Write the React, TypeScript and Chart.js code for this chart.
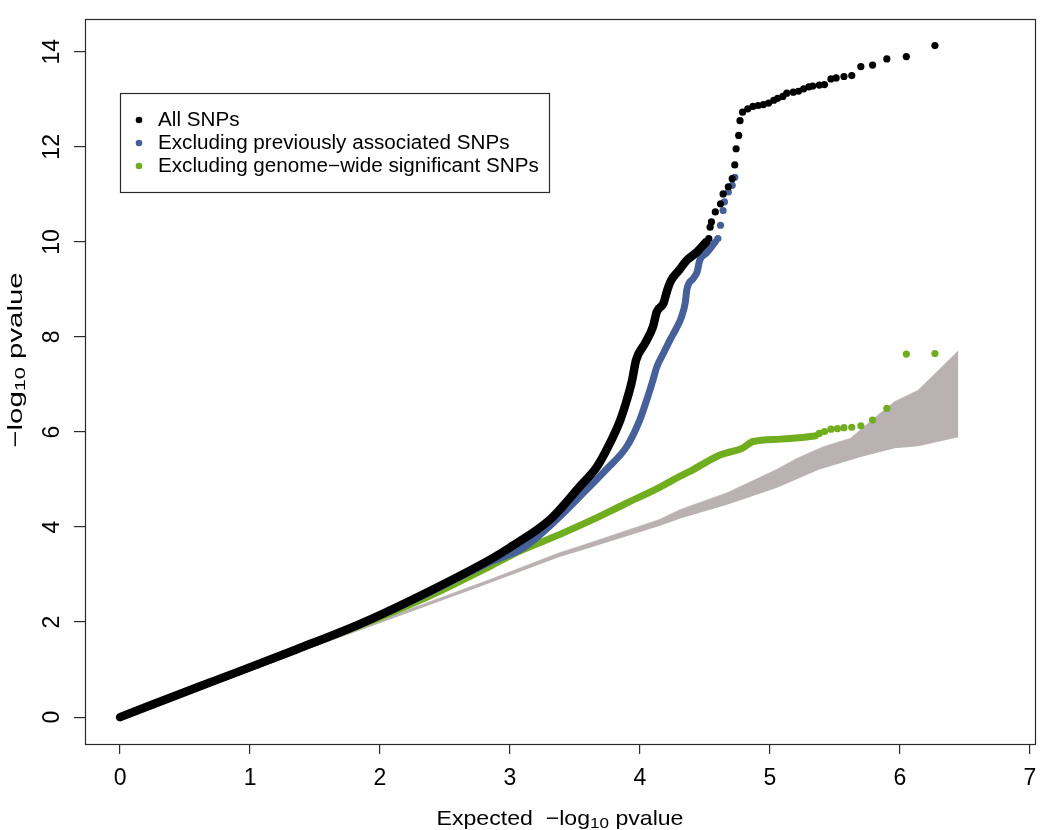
import React, { useEffect, useRef } from "react";
import { Chart, registerables } from "chart.js";

Chart.register(...registerables);

// ---------- data ----------
const xTicks = [0, 1, 2, 3, 4, 5, 6, 7];
const yTicks = [0, 2, 4, 6, 8, 10, 12, 14];

const legendLabels = [
  "All SNPs",
  "Excluding previously associated SNPs",
  "Excluding genome\u2212wide significant SNPs",
];
const seriesColors = ["#000000", "#46609a", "#70ad1f"];
const bandColor = "#bab2b2";

// All SNPs: dense part (reads as a thick line) and sparse tail points
const allDense: number[][] = [
  [0, 0], [0.615, 0.65], [0.846, 0.89], [1.36, 1.43], [1.87, 1.99], [2.38, 2.65],
  [2.85, 3.32], [3.0, 3.57], [3.31, 4.16], [3.54, 4.86], [3.67, 5.27], [3.77, 5.77],
  [3.85, 6.26], [3.9, 6.68], [3.94, 7.09], [3.97, 7.51], [4.04, 7.87], [4.1, 8.21],
  [4.13, 8.53], [4.18, 8.7], [4.21, 8.98], [4.24, 9.19], [4.3, 9.4], [4.36, 9.61],
  [4.44, 9.79], [4.51, 10.0],
];
const allTail: number[][] = [
  [4.53, 10.07], [4.54, 10.31], [4.55, 10.42], [4.58, 10.63], [4.62, 10.8], [4.64, 11.01],
  [4.68, 11.16], [4.71, 11.33], [4.73, 11.62], [4.74, 11.96], [4.76, 12.24], [4.77, 12.55],
  [4.79, 12.73], [4.83, 12.8], [4.87, 12.85], [4.91, 12.87], [4.95, 12.89], [4.99, 12.92],
  [5.03, 12.98], [5.06, 13.02], [5.1, 13.06], [5.13, 13.13], [5.18, 13.15], [5.22, 13.17],
  [5.26, 13.22], [5.3, 13.26], [5.33, 13.28], [5.38, 13.3], [5.42, 13.31], [5.47, 13.43],
  [5.51, 13.45], [5.57, 13.48], [5.63, 13.5], [5.7, 13.69], [5.79, 13.72], [5.9, 13.85],
  [6.05, 13.9], [6.27, 14.13],
];

// Excluding previously associated SNPs
const prevDense: number[][] = [
  [0, 0], [0.615, 0.65], [0.846, 0.88], [1.36, 1.42], [1.87, 1.98], [2.38, 2.62],
  [2.85, 3.27], [3.1, 3.56], [3.36, 4.16], [3.59, 4.79], [3.74, 5.21], [3.9, 5.7],
  [4.0, 6.26], [4.06, 6.74], [4.1, 7.09], [4.13, 7.37], [4.18, 7.65], [4.23, 7.93],
  [4.28, 8.18], [4.32, 8.42], [4.35, 8.74], [4.36, 8.98], [4.41, 9.23], [4.44, 9.37],
  [4.46, 9.61], [4.51, 9.76], [4.58, 10.0],
];
const prevTail: number[][] = [
  [4.6, 10.07], [4.62, 10.35], [4.64, 10.66], [4.65, 10.84], [4.68, 11.05], [4.71, 11.19],
  [4.73, 11.36],
];

// Excluding genome-wide significant SNPs
const gwsDense: number[][] = [
  [0, 0], [0.615, 0.65], [0.846, 0.88], [1.36, 1.42], [1.87, 1.96], [2.38, 2.55],
  [2.85, 3.18], [3.08, 3.5], [3.38, 3.84], [3.64, 4.16], [3.88, 4.48], [4.14, 4.82],
  [4.31, 5.07], [4.41, 5.21], [4.62, 5.52], [4.79, 5.66], [4.87, 5.8], [5.08, 5.85],
  [5.18, 5.87], [5.33, 5.91],
];
const gwsTail: number[][] = [
  [5.35, 5.92], [5.38, 5.97], [5.42, 6.01], [5.47, 6.06], [5.52, 6.07], [5.57, 6.09],
  [5.63, 6.1], [5.7, 6.13], [5.79, 6.25], [5.9, 6.5], [6.05, 7.64], [6.27, 7.65],
];

// 95% confidence band of the expected distribution
const bandLower: number[][] = [
  [0, 0], [1.87, 1.85], [2.85, 2.83], [3.38, 3.37], [3.54, 3.5], [4.15, 4.02], [4.31, 4.18],
  [4.67, 4.47], [5.05, 4.82], [5.38, 5.21], [5.72, 5.49], [5.96, 5.66], [6.14, 5.7],
  [6.45, 5.89],
];
const bandUpper: number[][] = [
  [0, 0], [1.87, 1.91], [2.85, 2.9], [3.38, 3.46], [3.54, 3.6], [4.15, 4.16], [4.31, 4.37],
  [4.67, 4.72], [5.05, 5.21], [5.21, 5.45], [5.41, 5.69], [5.62, 5.87], [5.82, 6.33],
  [5.96, 6.64], [6.14, 6.88], [6.45, 7.71],
];

const FONT = "'Liberation Sans', Arial, Helvetica, sans-serif";

const toPts = (a: number[][]) => a.map(([x, y]) => ({ x, y }));

type Part = { t: string; size: number; dy?: number };

function drawRich(
  ctx: CanvasRenderingContext2D,
  parts: Part[],
  cx: number,
  baseline: number,
  rotate: boolean,
  stretch: number
) {
  ctx.save();
  let total = 0;
  const widths = parts.map((p) => {
    ctx.font = `${p.size}px ${FONT}`;
    const w = ctx.measureText(p.t).width;
    total += w;
    return w;
  });
  ctx.translate(cx, baseline);
  if (rotate) ctx.rotate(-Math.PI / 2);
  ctx.scale(stretch, 1);
  ctx.fillStyle = "#000";
  ctx.textBaseline = "alphabetic";
  ctx.textAlign = "left";
  let x = -total / 2;
  parts.forEach((p, i) => {
    ctx.font = `${p.size}px ${FONT}`;
    ctx.fillText(p.t, x, p.dy || 0);
    x += widths[i];
  });
  ctx.restore();
}

const decorPlugin = {
  id: "decor",
  afterDraw(chart: any) {
    const { ctx, chartArea } = chart;
    const { left, right, top, bottom } = chartArea;
    ctx.save();
    // frame
    ctx.strokeStyle = "#2a2a2a";
    ctx.lineWidth = 1.2;
    ctx.strokeRect(Math.round(left) + 0.5, Math.round(top) + 0.5, Math.round(right - left), Math.round(bottom - top));

    // legend
    const lx = left + 35;
    const ly = top + 74;
    ctx.strokeRect(lx + 0.5, ly + 0.5, 429, 99);
    ctx.font = `19.5px ${FONT}`;
    ctx.textBaseline = "middle";
    ctx.textAlign = "left";
    legendLabels.forEach((lab, i) => {
      const yy = ly + 27 + i * 23;
      ctx.fillStyle = seriesColors[i];
      ctx.beginPath();
      ctx.arc(lx + 19, yy, 3.3, 0, Math.PI * 2);
      ctx.fill();
      ctx.fillStyle = "#000";
      ctx.save();
      ctx.translate(lx + 38, yy);
      ctx.scale(1.06, 1);
      ctx.fillText(lab, 0, 1);
      ctx.restore();
    });
    ctx.restore();

    // axis titles
    const cx = (left + right) / 2;
    drawRich(
      ctx,
      [
        { t: "Expected  \u2212log", size: 21 },
        { t: "10", size: 15.5, dy: 2.5 },
        { t: " pvalue", size: 21 },
      ],
      cx,
      825,
      false,
      1.1
    );
    drawRich(
      ctx,
      [
        { t: "\u2212log", size: 21 },
        { t: "10", size: 15.5, dy: 3 },
        { t: " pvalue", size: 21 },
      ],
      22,
      360,
      true,
      1.4
    );
  },
};

export default function App() {
  const ref = useRef<HTMLCanvasElement | null>(null);

  useEffect(() => {
    if (!ref.current) return;
    const lineDs = (data: number[][], color: string, w: number) => ({
      data: toPts(data),
      showLine: true,
      borderColor: color,
      backgroundColor: color,
      borderWidth: w,
      borderCapStyle: "round",
      borderJoinStyle: "round",
      pointRadius: 0,
      cubicInterpolationMode: "monotone",
      fill: false,
    });
    const dotDs = (data: number[][], color: string) => ({
      data: toPts(data),
      showLine: false,
      backgroundColor: color,
      borderWidth: 0,
      pointRadius: 3.6,
      pointHoverRadius: 3.6,
    });
    const zeroPad = (s: any) => {
      s.paddingTop = 0;
      s.paddingBottom = 0;
      s.paddingLeft = 0;
      s.paddingRight = 0;
    };
    const chart = new Chart(ref.current, {
      type: "scatter",
      data: {
        datasets: [
          lineDs(allDense, seriesColors[0], 8.5),
          dotDs(allTail, seriesColors[0]),
          lineDs(prevDense, seriesColors[1], 7),
          dotDs(prevTail, seriesColors[1]),
          lineDs(gwsDense, seriesColors[2], 7),
          dotDs(gwsTail, seriesColors[2]),
          {
            data: toPts(bandLower),
            showLine: true,
            borderWidth: 0,
            borderColor: bandColor,
            pointRadius: 0,
            fill: false,
          },
          {
            data: toPts(bandUpper),
            showLine: true,
            borderWidth: 0.5,
            borderColor: bandColor,
            backgroundColor: bandColor,
            pointRadius: 0,
            fill: "-1",
          },
        ] as any,
      },
      options: {
        animation: false,
        responsive: false,
        devicePixelRatio: 1,
        events: [],
        layout: { padding: { top: 19, right: 15, left: 0, bottom: 0 } },
        plugins: {
          legend: { display: false },
          tooltip: { enabled: false },
          title: { display: false },
        },
        scales: {
          x: {
            type: "linear",
            position: "bottom",
            min: -0.27,
            max: 7.04,
            afterBuildTicks: (s: any) => {
              s.ticks = xTicks.map((v) => ({ value: v }));
            },
            afterFit: (s: any) => {
              s.height = 86;
              zeroPad(s);
            },
            grid: {
              display: true,
              drawOnChartArea: false,
              drawTicks: true,
              tickLength: 10,
              color: "#2a2a2a",
              lineWidth: 1.2,
            },
            border: { display: false },
            ticks: {
              autoSkip: false,
              maxRotation: 0,
              minRotation: 0,
              padding: 11,
              color: "#000",
              font: { family: FONT, size: 23 },
            },
          },
          y: {
            type: "linear",
            position: "left",
            min: -0.565,
            max: 14.69,
            afterBuildTicks: (s: any) => {
              s.ticks = yTicks.map((v) => ({ value: v }));
            },
            afterFit: (s: any) => {
              s.width = 85;
              zeroPad(s);
            },
            grid: {
              display: true,
              drawOnChartArea: false,
              drawTicks: true,
              tickLength: 11,
              color: "#2a2a2a",
              lineWidth: 1.2,
            },
            border: { display: false },
            ticks: {
              autoSkip: false,
              minRotation: 90,
              maxRotation: 90,
              crossAlign: "center",
              padding: 9,
              color: "#000",
              font: { family: FONT, size: 23 },
            },
          },
        },
      },
      plugins: [decorPlugin],
    } as any);
    return () => chart.destroy();
  }, []);

  return (
    <div style={{ position: "absolute", left: 0, top: 0, width: 1050, height: 830, background: "#fff" }}>
      <canvas ref={ref} width={1050} height={830} style={{ display: "block", width: 1050, height: 830 }} />
    </div>
  );
}
